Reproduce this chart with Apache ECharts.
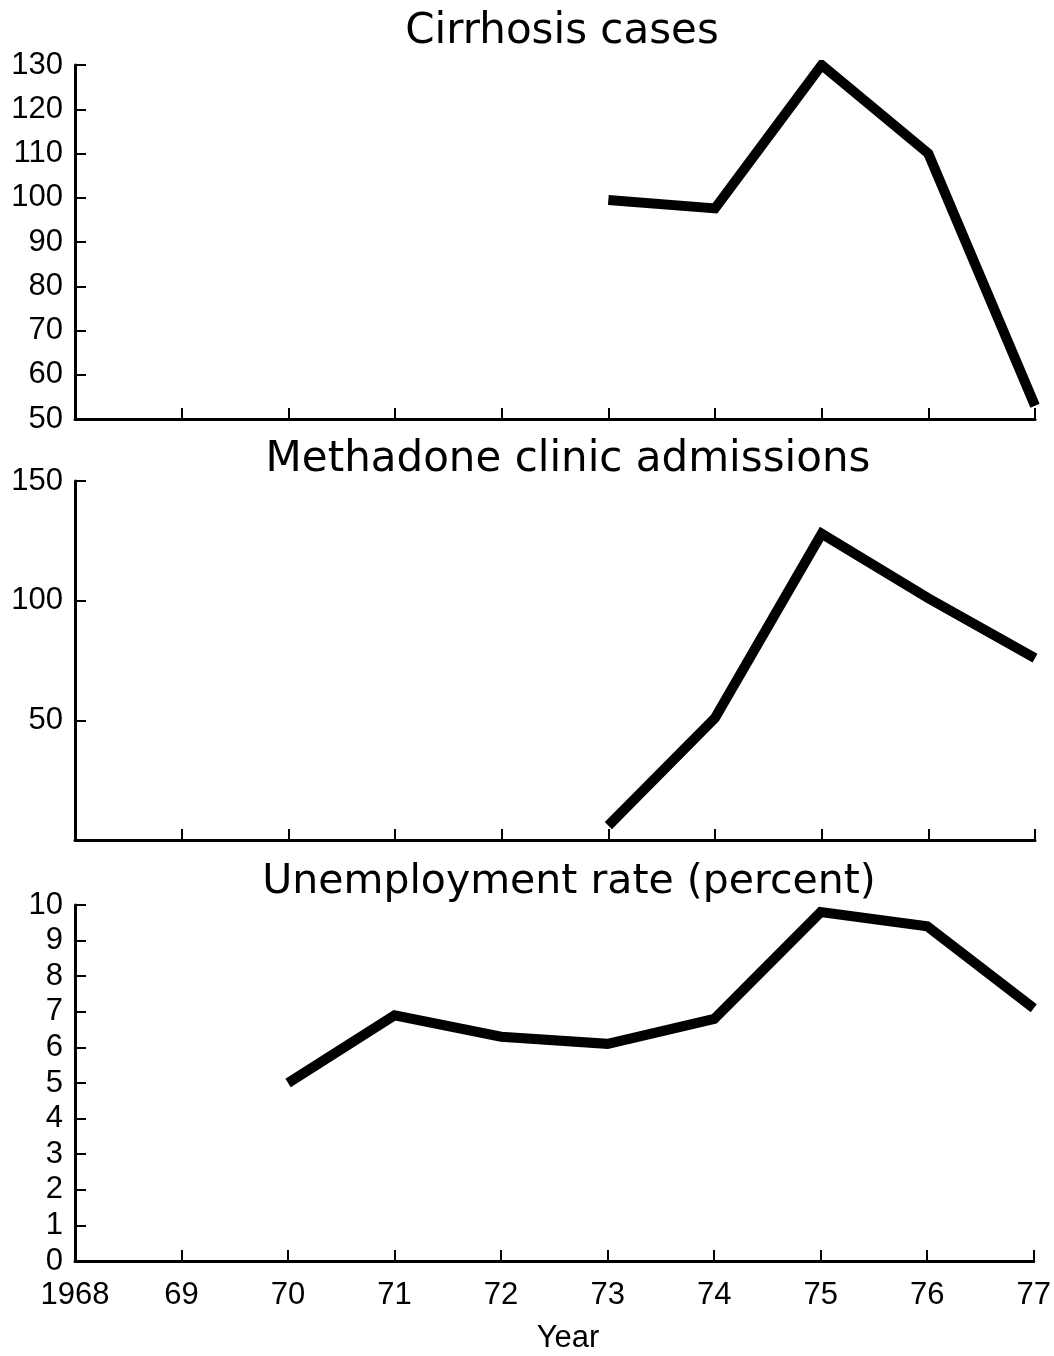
<!DOCTYPE html>
<html>
<head>
<meta charset="utf-8">
<script src="https://cdn.jsdelivr.net/npm/echarts@6/dist/echarts.min.js"></script>
<style>
  html, body { margin: 0; padding: 0; background: #fff; }
  #main { width: 1054px; height: 1356px; }
</style>
</head>
<body>
<div id="main"></div>
<script>
  // years on the shared x axis
  var years = [1968, 1969, 1970, 1971, 1972, 1973, 1974, 1975, 1976, 1977];
  // values, null = no data
  var cirrhosis = [null, null, null, null, null, 99.5, 97.6, 130, 110, 53];
  var methadone = [null, null, null, null, null, 6, 51, 128, 101, 76];
  var unemployment = [null, null, 5.0, 6.9, 6.3, 6.1, 6.8, 9.8, 9.4, 7.1];

  var titles = ['Cirrhosis cases', 'Methadone clinic admissions', 'Unemployment rate (percent)'];

  function pairs(vals) {
    var out = [];
    years.forEach(function (y, i) {
      if (vals[i] !== null) out.push([y, vals[i]]);
    });
    return out;
  }

  var font = '"Liberation Sans", Arial, Helvetica, sans-serif';
  var axisLine = { show: true, lineStyle: { color: '#000', width: 3 } };
  var tick = { show: true, inside: true, length: 11, lineStyle: { color: '#000', width: 2 } };

  var grids = [
    { left: 75, right: 19, top: 65, height: 354 },
    { left: 75, right: 19, top: 481, height: 359 },
    { left: 75, right: 19, top: 905, height: 356 }
  ];

  function xAxis(idx, labels) {
    return {
      type: 'value', gridIndex: idx, min: 1968, max: 1977, interval: 1,
      axisLine: axisLine, axisTick: tick, splitLine: { show: false },
      axisLabel: {
        show: labels, color: '#000', fontFamily: font, fontSize: 31, margin: 19,
        formatter: function (v) { return v === 1968 ? '1968' : String(v).slice(2); }
      }
    };
  }

  function yAxis(idx, min, max, step, hideMin) {
    return {
      type: 'value', gridIndex: idx, min: min, max: max, interval: step,
      axisLine: axisLine, axisTick: tick, splitLine: { show: false },
      axisLabel: {
        color: '#000', fontFamily: font, fontSize: 31, margin: 12,
        formatter: function (v) { return (hideMin && v === min) ? '' : v; }
      }
    };
  }

  function line(idx, vals) {
    return {
      type: 'line', xAxisIndex: idx, yAxisIndex: idx, data: pairs(vals),
      showSymbol: false, symbol: 'none', connectNulls: false,
      lineStyle: { color: '#000', width: 10, join: 'miter', cap: 'butt' }
    };
  }

  var titleStyle = { color: '#000', fontFamily: '"DejaVu Sans", sans-serif', fontSize: 42, fontWeight: 'normal' };

  var chart = echarts.init(document.getElementById('main'));
  chart.setOption({
    animation: false,
    backgroundColor: '#fff',
    title: [
      { text: titles[0], left: 557, top: 6, textAlign: 'center', textStyle: titleStyle },
      { text: titles[1], left: 563, top: 434, textAlign: 'center', textStyle: titleStyle },
      { text: titles[2], left: 564, top: 857, textAlign: 'center',
        textStyle: Object.assign({}, titleStyle, { fontSize: 41 }) },
      { text: 'Year', left: 563, top: 1318, textAlign: 'center',
        textStyle: { color: '#000', fontFamily: font, fontSize: 31, fontWeight: 'normal' } }
    ],
    grid: grids,
    xAxis: [xAxis(0, false), xAxis(1, false), xAxis(2, true)],
    yAxis: [yAxis(0, 50, 130, 10, false), yAxis(1, 0, 150, 50, true), yAxis(2, 0, 10, 1, false)],
    series: [line(0, cirrhosis), line(1, methadone), line(2, unemployment)]
  });
</script>
</body>
</html>
